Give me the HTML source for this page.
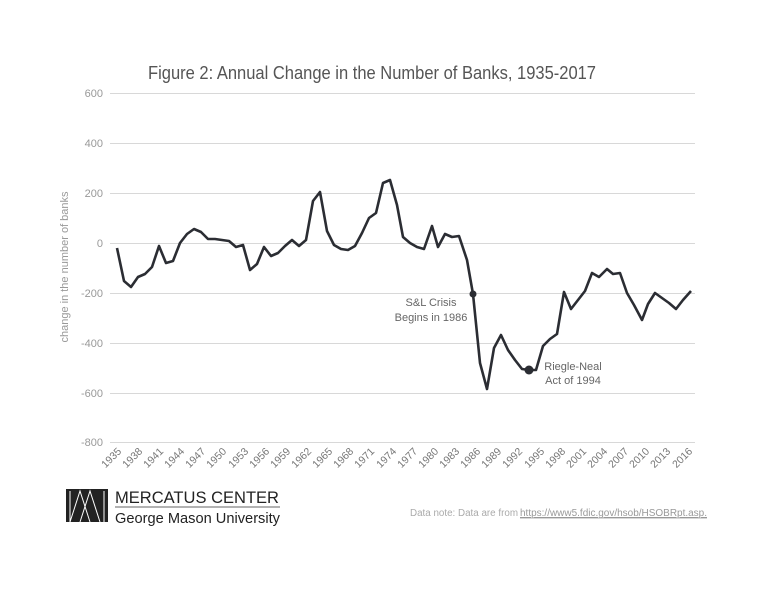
<!DOCTYPE html>
<html><head><meta charset="utf-8"><style>
html,body{margin:0;padding:0;background:#fff;}
svg{display:block;font-family:"Liberation Sans",sans-serif;}
</style></head><body>
<svg width="768" height="593" viewBox="0 0 768 593">
<rect width="768" height="593" fill="#fff"/>
<text x="372" y="79" font-size="18" fill="#555" text-anchor="middle" font-weight="300" textLength="448" lengthAdjust="spacingAndGlyphs">Figure 2: Annual Change in the Number of Banks, 1935-2017</text>
<g stroke="#d8d8d8" stroke-width="1">
<line x1="110" x2="695" y1="93.5" y2="93.5"/>
<line x1="110" x2="695" y1="143.5" y2="143.5"/>
<line x1="110" x2="695" y1="193.5" y2="193.5"/>
<line x1="110" x2="695" y1="243.5" y2="243.5"/>
<line x1="110" x2="695" y1="293.5" y2="293.5"/>
<line x1="110" x2="695" y1="343.5" y2="343.5"/>
<line x1="110" x2="695" y1="393.5" y2="393.5"/>
<line x1="110" x2="695" y1="442.5" y2="442.5"/>
</g>
<g font-size="11" fill="#999" text-anchor="end">
<text x="103" y="97">600</text>
<text x="103" y="147">400</text>
<text x="103" y="197">200</text>
<text x="103" y="247">0</text>
<text x="103" y="297">-200</text>
<text x="103" y="347">-400</text>
<text x="103" y="397">-600</text>
<text x="103" y="446">-800</text>
</g>
<text transform="translate(68,267) rotate(-90)" font-size="11" fill="#999" text-anchor="middle">change in the number of banks</text>
<g font-size="10.5" fill="#777" text-anchor="end">
<text transform="translate(122,452) rotate(-45)">1935</text>
<text transform="translate(143,452) rotate(-45)">1938</text>
<text transform="translate(164,452) rotate(-45)">1941</text>
<text transform="translate(185,452) rotate(-45)">1944</text>
<text transform="translate(206,452) rotate(-45)">1947</text>
<text transform="translate(227,452) rotate(-45)">1950</text>
<text transform="translate(249,452) rotate(-45)">1953</text>
<text transform="translate(270,452) rotate(-45)">1956</text>
<text transform="translate(291,452) rotate(-45)">1959</text>
<text transform="translate(312,452) rotate(-45)">1962</text>
<text transform="translate(333,452) rotate(-45)">1965</text>
<text transform="translate(354,452) rotate(-45)">1968</text>
<text transform="translate(375,452) rotate(-45)">1971</text>
<text transform="translate(397,452) rotate(-45)">1974</text>
<text transform="translate(418,452) rotate(-45)">1977</text>
<text transform="translate(439,452) rotate(-45)">1980</text>
<text transform="translate(460,452) rotate(-45)">1983</text>
<text transform="translate(481,452) rotate(-45)">1986</text>
<text transform="translate(502,452) rotate(-45)">1989</text>
<text transform="translate(523,452) rotate(-45)">1992</text>
<text transform="translate(545,452) rotate(-45)">1995</text>
<text transform="translate(566,452) rotate(-45)">1998</text>
<text transform="translate(587,452) rotate(-45)">2001</text>
<text transform="translate(608,452) rotate(-45)">2004</text>
<text transform="translate(629,452) rotate(-45)">2007</text>
<text transform="translate(650,452) rotate(-45)">2010</text>
<text transform="translate(671,452) rotate(-45)">2013</text>
<text transform="translate(693,452) rotate(-45)">2016</text>
</g>
<polyline fill="none" stroke="#2b2d33" stroke-width="2.6" stroke-linejoin="round" points="117,248 124,281 131,287 138,277 145,274 152,267 159,246 166,263 173,261 180,243 187,234 194,229 201,232 208,239 215,239 222,240 229,241 236,247 243,245 250,270 257,264 264,247 271,256 278,253 285,246 292,240 299,246 306,240 313,201 320,192 327,231 334,245 341,249 348,250 355,246 362,233 369,218 376,213 383,183 390,180 397,205 403,237 410,243 417,247 424,249 432,226 438,247 445,234 452,237 459,236 467,260 473,294 480,363 487,389 494,348 501,335 508,350 515,360 522,369 529,370 536,370 543,346 550,339 557,334 564,292 571,309 578,300 585,291 592,273 599,277 607,269 613,274 620,273 627,293 634,305 642,320 648,304 655,293 662,298 669,303 676,309 683,300 691,291"/>
<circle cx="473" cy="294" r="3.5" fill="#2b2d33"/>
<circle cx="529" cy="370" r="4.5" fill="#2b2d33"/>
<g font-size="11" fill="#666" text-anchor="middle">
<text x="431" y="306">S&amp;L Crisis</text>
<text x="431" y="321">Begins in 1986</text>
<text x="573" y="370">Riegle-Neal</text>
<text x="573" y="384">Act of 1994</text>
</g>
<rect x="66" y="489" width="42" height="33" fill="#222"/>
<g stroke="#fff" stroke-width="1" fill="none">
<polyline points="70,522 80,491 90,522"/>
<polyline points="80,522 90,491 100,522"/>
<line x1="70" y1="491" x2="70" y2="522"/>
<line x1="104" y1="491" x2="104" y2="522"/>
</g>
<text x="115" y="503" font-size="16.5" fill="#222" textLength="164" lengthAdjust="spacingAndGlyphs">MERCATUS CENTER</text>
<line x1="115" y1="507" x2="280" y2="507" stroke="#666" stroke-width="1"/>
<text x="115" y="523" font-size="15" fill="#222" textLength="165" lengthAdjust="spacingAndGlyphs">George Mason University</text>
<text x="410" y="516" font-size="10" fill="#aaa" textLength="108" lengthAdjust="spacingAndGlyphs">Data note: Data are from</text>
<text x="520" y="516" font-size="10" fill="#999" text-decoration="underline" textLength="187" lengthAdjust="spacingAndGlyphs">https://www5.fdic.gov/hsob/HSOBRpt.asp.</text>
<line x1="520" y1="518" x2="707" y2="518" stroke="#999" stroke-width="0.8"/>
</svg>
</body></html>
